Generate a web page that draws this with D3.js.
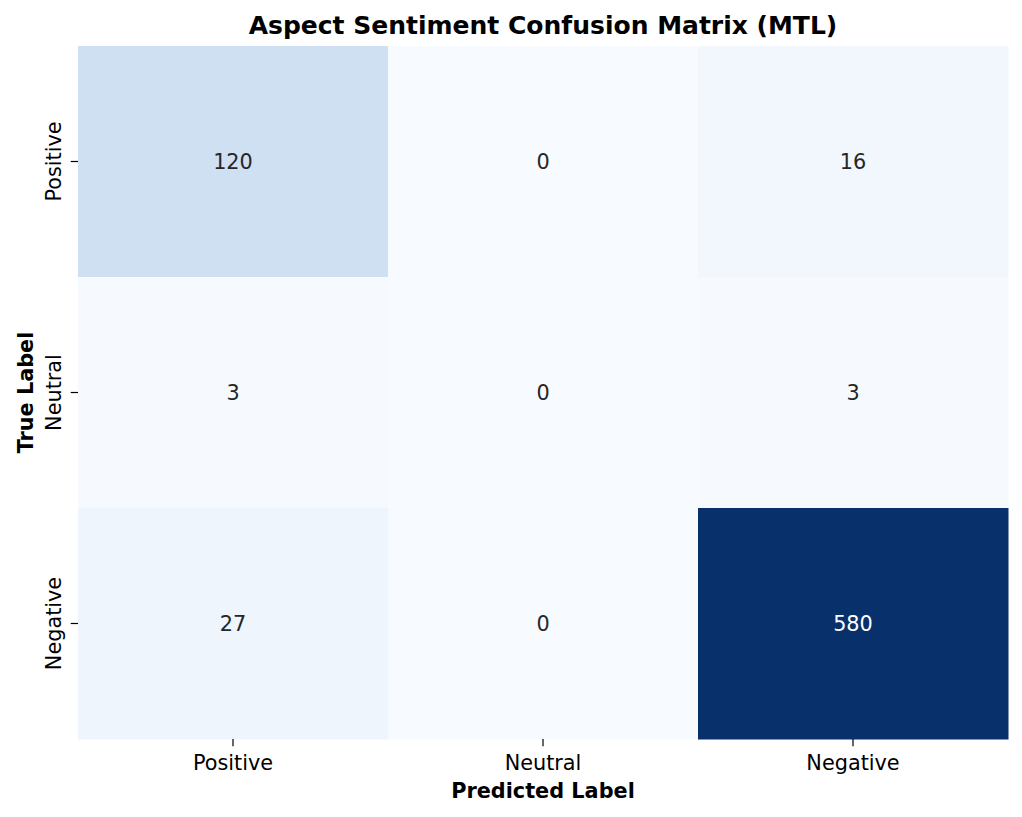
<!DOCTYPE html>
<html>
<head>
<meta charset="utf-8">
<script src="https://cdn.jsdelivr.net/npm/d3@7"></script>
<style>
  body { margin: 0; background: #fff; }
  svg text { font-family: "DejaVu Sans", sans-serif; }
</style>
</head>
<body>
<div id="chart"></div>
<script>
const labels = ["Positive", "Neutral", "Negative"];
// rows = true label, cols = predicted label
const matrix = [
  [120, 0, 16],
  [3, 0, 3],
  [27, 0, 580],
];

const width = 1022;
const height = 817;
const margin = { top: 46, right: 14, bottom: 78, left: 78 };
const fs = 20.8;

const svg = d3
  .select("#chart")
  .append("svg")
  .attr("width", width)
  .attr("height", height);

const x = d3
  .scaleBand()
  .domain(labels)
  .range([margin.left, width - margin.right]);
const y = d3
  .scaleBand()
  .domain(labels)
  .range([margin.top, height - margin.bottom]);

const maxVal = d3.max(matrix.flat());
const color = d3.scaleSequential(d3.interpolateBlues).domain([0, maxVal]);

const cells = [];
matrix.forEach((row, i) =>
  row.forEach((v, j) => cells.push({ t: labels[i], p: labels[j], v })),
);

svg
  .selectAll("rect.cell")
  .data(cells)
  .enter()
  .append("rect")
  .attr("class", "cell")
  .attr("x", (d) => x(d.p))
  .attr("y", (d) => y(d.t))
  .attr("width", x.bandwidth() + 0.5)
  .attr("height", y.bandwidth() + 0.5)
  .attr("fill", (d) => color(d.v));

svg
  .selectAll("text.val")
  .data(cells)
  .enter()
  .append("text")
  .attr("class", "val")
  .attr("x", (d) => x(d.p) + x.bandwidth() / 2)
  .attr("y", (d) => y(d.t) + y.bandwidth() / 2)
  .attr("dy", "0.36em")
  .attr("text-anchor", "middle")
  .style("font-size", fs + "px")
  .attr("fill", (d) => (d.v / maxVal > 0.6 ? "#ffffff" : "#262626"))
  .text((d) => d.v);

// axes
const xAxis = svg
  .append("g")
  .attr("transform", `translate(0,${height - margin.bottom})`)
  .call(d3.axisBottom(x).tickSize(7.3).tickPadding(7));
const yAxis = svg
  .append("g")
  .attr("transform", `translate(${margin.left},0)`)
  .call(d3.axisLeft(y).tickSize(7.3).tickPadding(7));

[xAxis, yAxis].forEach((g) => {
  g.attr("font-size", null);
  g.select(".domain").remove();
  g.selectAll(".tick line").attr("stroke", "#000").attr("stroke-width", 1.2);
  g.selectAll(".tick text")
    .attr("fill", "#000")
    .style("font-size", fs + "px")
    .style("font-family", "DejaVu Sans, sans-serif");
});

xAxis.selectAll(".tick text").attr("dy", null).attr("y", 31);

yAxis
  .selectAll(".tick text")
  .attr("text-anchor", "middle")
  .attr("x", null)
  .attr("dy", null)
  .attr("transform", "translate(-17,0) rotate(-90)");

svg
  .append("text")
  .attr("x", (margin.left + width - margin.right) / 2)
  .attr("y", 34)
  .attr("text-anchor", "middle")
  .style("font-size", "25px")
  .attr("font-weight", "bold")
  .text("Aspect Sentiment Confusion Matrix (MTL)");

svg
  .append("text")
  .attr("x", (margin.left + width - margin.right) / 2)
  .attr("y", 798)
  .attr("text-anchor", "middle")
  .style("font-size", fs + "px")
  .attr("font-weight", "bold")
  .text("Predicted Label");

svg
  .append("text")
  .attr("transform", `translate(33,${(margin.top + height - margin.bottom) / 2}) rotate(-90)`)
  .attr("text-anchor", "middle")
  .style("font-size", fs + "px")
  .attr("font-weight", "bold")
  .text("True Label");
</script>
</body>
</html>
